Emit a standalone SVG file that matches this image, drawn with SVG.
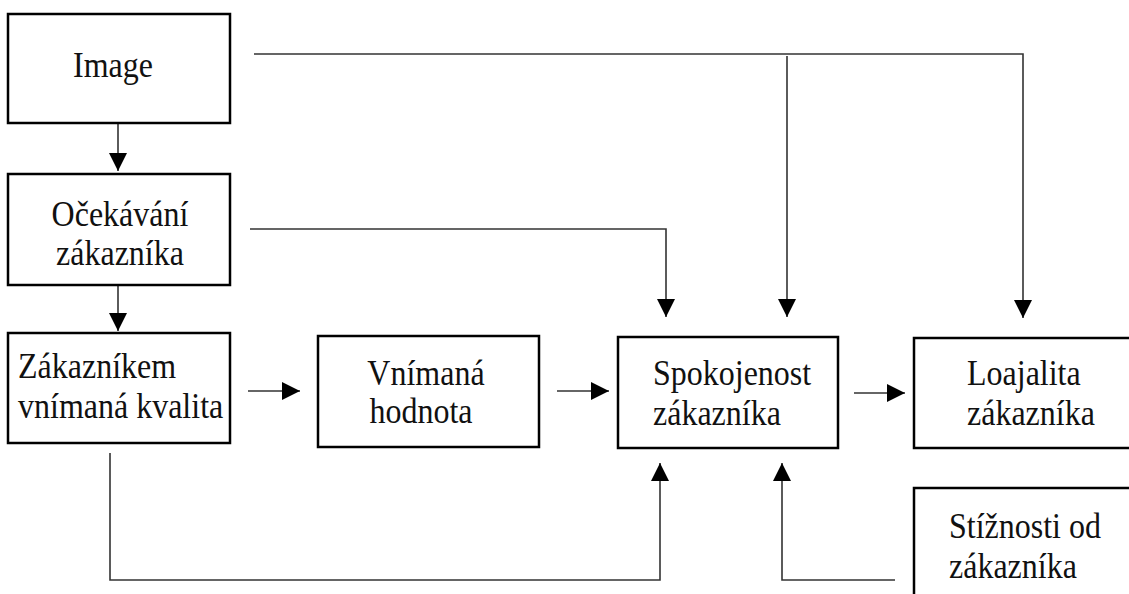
<svg xmlns="http://www.w3.org/2000/svg" width="1129" height="594" viewBox="0 0 1129 594">
<style>
.box{fill:#fff;stroke:#000;stroke-width:2.5}
.t{font-family:"Liberation Serif","Times New Roman",serif;font-size:32px;fill:#111}
.c{fill:none;stroke:#333;stroke-width:1.6}
</style>
<defs>
<marker id="ah" markerUnits="userSpaceOnUse" markerWidth="18" markerHeight="18" viewBox="0 0 16 16" refX="16" refY="8" orient="auto">
<path d="M0,0 L16,8 L0,16 Z" fill="#000"/>
</marker>
</defs>
<rect width="1129" height="594" fill="#fff"/>
<g id="connectors">
<path class="c" d="M118,123 V171" marker-end="url(#ah)"/>
<path class="c" d="M118,285 V331" marker-end="url(#ah)"/>
<path class="c" d="M248,391 H300" marker-end="url(#ah)"/>
<path class="c" d="M557,391 H609" marker-end="url(#ah)"/>
<path class="c" d="M854,393 H905" marker-end="url(#ah)"/>
<path class="c" d="M254,54 H1023 V318" marker-end="url(#ah)"/>
<path class="c" d="M787,56 V317" marker-end="url(#ah)"/>
<path class="c" d="M250,229 H666 V317" marker-end="url(#ah)"/>
<path class="c" d="M110,453 V580 H660 V463" marker-end="url(#ah)"/>
<path class="c" d="M895,580 H782 V463" marker-end="url(#ah)"/>
</g>
<g id="image">
<rect class="box" x="8" y="14" width="222" height="109"/>
<text class="t" x="113" y="0" transform="matrix(1 0 0 1.12 0 77)" text-anchor="middle">Image</text>
</g>
<g id="ocekavani">
<rect class="box" x="8" y="174" width="222" height="111"/>
<text class="t" x="120" y="0" transform="matrix(1 0 0 1.12 0 226)" text-anchor="middle">Očekávání</text>
<text class="t" x="120" y="0" transform="matrix(1 0 0 1.12 0 265)" text-anchor="middle">zákazníka</text>
</g>
<g id="kvalita">
<rect class="box" x="8" y="333" width="222" height="110"/>
<text class="t" x="18" y="0" transform="matrix(1 0 0 1.12 0 378)">Zákazníkem</text>
<text class="t" x="18" y="0" transform="matrix(1 0 0 1.12 0 418)">vnímaná kvalita</text>
</g>
<g id="hodnota">
<rect class="box" x="318" y="336" width="221" height="111"/>
<text class="t" x="426" y="0" transform="matrix(1 0 0 1.12 0 385)" text-anchor="middle">Vnímaná</text>
<text class="t" x="421" y="0" transform="matrix(1 0 0 1.12 0 423)" text-anchor="middle">hodnota</text>
</g>
<g id="spokojenost">
<rect class="box" x="618" y="337" width="220" height="111"/>
<text class="t" x="653" y="0" transform="matrix(1 0 0 1.12 0 385)">Spokojenost</text>
<text class="t" x="653" y="0" transform="matrix(1 0 0 1.12 0 425)">zákazníka</text>
</g>
<g id="loajalita">
<rect class="box" x="914" y="338" width="230" height="110"/>
<text class="t" x="967" y="0" transform="matrix(1 0 0 1.12 0 385)">Loajalita</text>
<text class="t" x="967" y="0" transform="matrix(1 0 0 1.12 0 425)">zákazníka</text>
</g>
<g id="stiznosti">
<rect class="box" x="914" y="488" width="230" height="120"/>
<text class="t" x="949" y="0" transform="matrix(1 0 0 1.12 0 538)">Stížnosti od</text>
<text class="t" x="949" y="0" transform="matrix(1 0 0 1.12 0 578)">zákazníka</text>
</g>
</svg>
